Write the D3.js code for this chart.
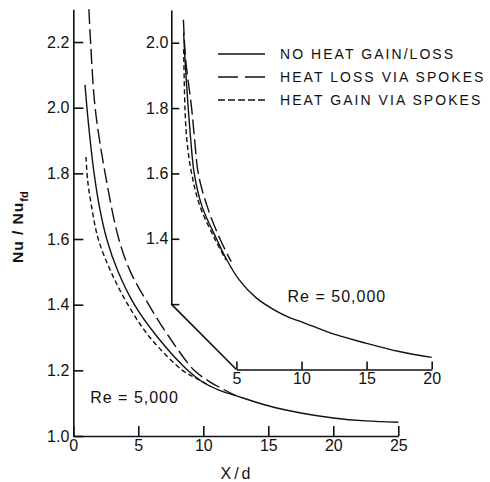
<!DOCTYPE html>
<html>
<head>
<meta charset="utf-8">
<script src="https://cdn.jsdelivr.net/npm/d3@7"></script>
<style>
  body { margin: 0; background: #fff; }
  svg { display: block; font-family: "Liberation Sans", Arial, sans-serif; }
</style>
</head>
<body>
<svg id="chart" width="490" height="482"></svg>
<script>
// Re = 5,000 curves, [x/d, Nu/Nu_fd]
var mainNoHeat = [[0.9,2.07],[1.05,2.0],[1.3,1.9],[1.6,1.8],[2.0,1.7],[2.57,1.6],[3.45,1.5],[4.7,1.4],[6.5,1.3],[8.8,1.2],[10,1.163],[11.2,1.14],[12.5,1.123],[15,1.092],[17.5,1.07],[20,1.055],[22.5,1.046],[25,1.042]];
var mainHeatLoss = [[1.2,2.3],[1.33,2.2],[1.68,2.0],[2.45,1.8],[3.5,1.6],[4.4,1.5],[5.8,1.4],[7.4,1.3],[9.3,1.2],[10.5,1.165],[11.5,1.143],[12.5,1.123]];
var mainHeatGain = [[0.98,1.85],[1.1,1.78],[1.4,1.7],[1.92,1.6],[2.9,1.5],[4.2,1.4],[5.9,1.3],[8.4,1.2],[9.5,1.175],[10.5,1.153]];

// Re = 50,000 curves (inset)
var insetNoHeat = [[0.95,2.03],[1.05,1.95],[1.3,1.8],[1.5,1.7],[1.76,1.6],[2.35,1.5],[3.47,1.4],[4.2,1.34],[5.2,1.275],[6.5,1.22],[8,1.18],[9,1.16],[10,1.146],[12.5,1.108],[15,1.08],[17.5,1.055],[20,1.037]];
var insetHeatLoss = [[0.93,2.07],[1.1,1.95],[1.56,1.8],[1.8,1.7],[2.07,1.6],[2.75,1.5],[3.73,1.4],[4.6,1.33]];
var insetHeatGain = [[0.95,1.98],[1.05,1.8],[1.2,1.7],[1.56,1.6],[2.2,1.5],[3.34,1.4],[4.2,1.335]];

// ticks and text
var mainXTicks = [0, 5, 10, 15, 20, 25];
var mainYTicks = [1.0, 1.2, 1.4, 1.6, 1.8, 2.0, 2.2];
var insetXTicks = [5, 10, 15, 20];
var insetYTicks = [1.2, 1.4, 1.6, 1.8, 2.0];
var insetYTickLabels = ["", "1.4", "1.6", "1.8", "2.0"];
var insetBreak = [[0, 1.2], [5, 1.0]];
var legendLabels = ["NO HEAT GAIN/LOSS", "HEAT LOSS VIA SPOKES", "HEAT GAIN VIA SPOKES"];
var reLabels = ["Re = 5,000", "Re = 50,000"];

var svg = d3.select("#chart");
var ink = "#111";
var dashes = ["none", "15,5", "5,3"];
var legendDashes = ["none", "20,7", "7,3"];

// scales
var x = d3.scaleLinear().domain([0, 25]).range([73.3, 398.3]);
var y = d3.scaleLinear().domain([1.0, 2.3]).range([436, 9.2]);
var xi = d3.scaleLinear().domain([0, 20]).range([171.3, 431.7]);
var yi = d3.scaleLinear().domain([1.0, 2.0]).range([369.5, 42.7]);

function styleAxis(g, size) {
  g.attr("font-family", null).attr("font-size", size);
  g.selectAll("path, line").attr("stroke", ink).attr("stroke-width", 1.6);
  g.selectAll("text").attr("fill", ink);
}

// main axes
svg.append("g")
  .attr("transform", "translate(" + x(0) + ",0)")
  .call(d3.axisLeft(y).tickValues(mainYTicks).tickFormat(d3.format(".1f"))
    .tickSize(-10).tickSizeOuter(0).tickPadding(4))
  .call(styleAxis, 16);

svg.append("g")
  .attr("transform", "translate(0," + y(1.0) + ")")
  .call(d3.axisBottom(x).tickValues(mainXTicks).tickSize(-10).tickSizeOuter(0).tickPadding(4))
  .call(styleAxis, 16);

// inset axes
var yiAxisScale = d3.scaleLinear().domain([1.2, 2.1]).range([yi(1.2), yi(2.1)]);
svg.append("g")
  .attr("transform", "translate(" + xi(0) + ",0)")
  .call(d3.axisLeft(yiAxisScale).tickValues(insetYTicks)
    .tickFormat(function(d, i) { return insetYTickLabels[i]; })
    .tickSize(-8).tickSizeOuter(0).tickPadding(3))
  .call(styleAxis, 16);

var xiAxisScale = d3.scaleLinear().domain([5, 20]).range([xi(5), xi(20)]);
svg.append("g")
  .attr("transform", "translate(0," + yi(1.0) + ")")
  .call(d3.axisBottom(xiAxisScale).tickValues(insetXTicks).tickSize(-8).tickSizeOuter(0).tickPadding(3))
  .call(styleAxis, 16);

svg.append("path")
  .attr("d", d3.line()(insetBreak.map(function(p) { return [xi(p[0]), yi(p[1])]; })))
  .attr("fill", "none").attr("stroke", ink).attr("stroke-width", 1.6);

// curves
var mainLine = d3.line().x(function(d) { return x(d[0]); }).y(function(d) { return y(d[1]); }).curve(d3.curveCatmullRom.alpha(0.5));
var insetLine = d3.line().x(function(d) { return xi(d[0]); }).y(function(d) { return yi(d[1]); }).curve(d3.curveCatmullRom.alpha(0.5));

[mainNoHeat, mainHeatLoss, mainHeatGain].forEach(function(s, i) {
  svg.append("path").attr("d", mainLine(s))
    .attr("fill", "none").attr("stroke", ink).attr("stroke-width", 1.4)
    .attr("stroke-dasharray", dashes[i]);
});
[insetNoHeat, insetHeatLoss, insetHeatGain].forEach(function(s, i) {
  svg.append("path").attr("d", insetLine(s))
    .attr("fill", "none").attr("stroke", ink).attr("stroke-width", 1.4)
    .attr("stroke-dasharray", dashes[i]);
});

// legend
var legend = svg.append("g").attr("transform", "translate(218,54)");
legendLabels.forEach(function(label, i) {
  var row = legend.append("g").attr("transform", "translate(0," + (i * 23) + ")");
  row.append("line").attr("x1", 0).attr("x2", 47)
    .attr("stroke", ink).attr("stroke-width", 1.4).attr("stroke-dasharray", legendDashes[i]);
  row.append("text").attr("x", 62).attr("y", 5)
    .attr("font-size", 14).attr("letter-spacing", 2.05).attr("fill", ink)
    .text(label);
});

// annotations
svg.append("text").attr("x", x(1.3)).attr("y", y(1.1))
  .attr("font-size", 16).attr("letter-spacing", 1).attr("fill", ink).text(reLabels[0]);
svg.append("text").attr("x", xi(8.93)).attr("y", yi(1.207))
  .attr("font-size", 16).attr("letter-spacing", 1).attr("fill", ink).text(reLabels[1]);

// axis titles
svg.append("text").attr("x", 237).attr("y", 479).attr("text-anchor", "middle")
  .attr("font-size", 16).attr("letter-spacing", 3).attr("fill", ink).text("X/d");

var yTitle = svg.append("text")
  .attr("transform", "translate(23,263) rotate(-90)")
  .attr("font-size", 15.5).attr("font-weight", "bold").attr("fill", ink);
yTitle.append("tspan").attr("letter-spacing", 1).text("Nu / Nu");
yTitle.append("tspan").attr("dy", 5).attr("font-size", 11).text("fd");
</script>
</body>
</html>
